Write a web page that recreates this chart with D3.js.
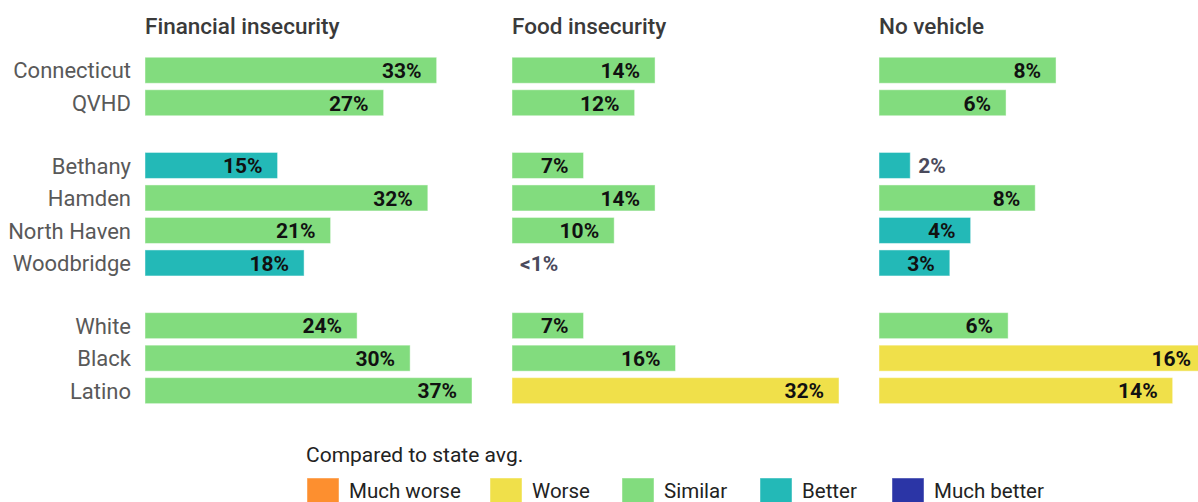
<!DOCTYPE html>
<html>
<head>
<meta charset="utf-8">
<script src="https://cdn.jsdelivr.net/npm/d3@7"></script>
<style>
  body { margin: 0; background: #fff; }
  svg { display: block; font-family: Roboto, "Noto Sans", sans-serif; }
</style>
</head>
<body>
<script>
// rows of the chart, group index puts the blank gap between blocks
var rows = ["Connecticut", "QVHD", "Bethany", "Hamden", "North Haven", "Woodbridge", "White", "Black", "Latino"];
var rowGroups = [0, 0, 1, 1, 1, 1, 2, 2, 2];

var panelTitles = ["Financial insecurity", "Food insecurity", "No vehicle"];

// values (%)
var financialValues = [33, 27, 15, 32, 21, 18, 24, 30, 37];
var foodValues = [14, 12, 7, 14, 10, 0, 7, 16, 32];
var vehicleValues = [8.5, 6.1, 1.5, 7.5, 4.4, 3.4, 6.2, 15.7, 14.1];

// printed labels
var financialLabels = ["33%", "27%", "15%", "32%", "21%", "18%", "24%", "30%", "37%"];
var foodLabels = ["14%", "12%", "7%", "14%", "10%", "<1%", "7%", "16%", "32%"];
var vehicleLabels = ["8%", "6%", "2%", "8%", "4%", "3%", "6%", "16%", "14%"];

// comparison to state average
var financialRating = ["Similar", "Similar", "Better", "Similar", "Similar", "Better", "Similar", "Similar", "Similar"];
var foodRating = ["Similar", "Similar", "Similar", "Similar", "Similar", "Similar", "Similar", "Similar", "Worse"];
var vehicleRating = ["Similar", "Similar", "Better", "Similar", "Better", "Better", "Similar", "Worse", "Worse"];

// axis maximum of each panel
var panelMax = [37, 32, 15.7];

var legendTitle = "Compared to state avg.";
var ratings = ["Much worse", "Worse", "Similar", "Better", "Much better"];
var ratingColors = ["#fd8f2f", "#f0e04a", "#82dc7e", "#23b9b7", "#2b35a6"];

var width = 1198, height = 502;
var panelX = [145, 512, 879],
    panelW = 327,
    groupGap = 30.2,
    legendX = [307, 490, 622, 760, 892];

var color = d3.scaleOrdinal().domain(ratings).range(ratingColors);

var y = d3.scaleBand()
    .domain(rows)
    .range([54, 346.5])
    .paddingInner(0.2)
    .paddingOuter(0.1);

function rowY(i) { return y(rows[i]) + rowGroups[i] * groupGap; }

var svg = d3.select("body").append("svg")
    .attr("width", width)
    .attr("height", height);

//row labels on the left
svg.append("g").selectAll("text")
    .data(rows)
  .enter().append("text")
    .attr("x", 131)
    .attr("y", function(d, i) { return rowY(i) + y.bandwidth() / 2; })
    .attr("dy", "0.37em")
    .attr("text-anchor", "end")
    .style("font-size", "22px")
    .style("fill", "#595959")
    .text(function(d) { return d; });

var panels = [
  { values: financialValues, labels: financialLabels, rating: financialRating },
  { values: foodValues, labels: foodLabels, rating: foodRating },
  { values: vehicleValues, labels: vehicleLabels, rating: vehicleRating }
];

panels.forEach(function(p, k) {
  var x = d3.scaleLinear().domain([0, panelMax[k]]).range([panelX[k], panelX[k] + panelW]);

  var g = svg.append("g");

  g.append("text")
      .attr("x", panelX[k])
      .attr("y", 34)
      .style("font-size", "22.5px")
      .style("font-weight", 500)
      .style("fill", "#3a3a3a")
      .text(panelTitles[k]);

  var data = rows.map(function(r, i) {
    return { row: r, i: i, value: p.values[i], label: p.labels[i], rating: p.rating[i] };
  });

  g.selectAll("rect")
      .data(data.filter(function(d) { return d.value > 0; }))
    .enter().append("rect")
      .attr("x", x(0))
      .attr("y", function(d) { return rowY(d.i); })
      .attr("width", function(d) { return x(d.value) - x(0); })
      .attr("height", y.bandwidth())
      .style("fill", function(d) { return color(d.rating); })
      .style("stroke", "#fff")
      .style("stroke-opacity", 0.45);

  //labels sit inside the bar end, or just past it if the bar is too short
  g.selectAll(".val")
      .data(data)
    .enter().append("text")
      .attr("class", "val")
      .attr("y", function(d) { return rowY(d.i) + y.bandwidth() / 2; })
      .attr("dy", "0.37em")
      .each(function(d) {
        var w = x(d.value) - x(0);
        var t = d3.select(this);
        if (w > 50) {
          t.attr("x", x(d.value) - 15).attr("text-anchor", "end").style("fill", "#111");
        } else {
          t.attr("x", x(d.value) + 8).attr("text-anchor", "start").style("fill", "#4a4a5c");
        }
      })
      .style("font-size", "21px")
      .style("font-weight", 700)
      .text(function(d) { return d.label; });
});

//legend
var legend = svg.append("g");
legend.append("text")
    .attr("x", 306)
    .attr("y", 462)
    .style("font-size", "21px")
    .style("fill", "#222")
    .text(legendTitle);

ratings.forEach(function(r, i) {
  legend.append("rect")
      .attr("x", legendX[i]).attr("y", 478)
      .attr("width", 32).attr("height", 32)
      .style("fill", color(r))
      .style("stroke", "#fff")
      .style("stroke-opacity", 0.45);
  legend.append("text")
      .attr("x", legendX[i] + 42).attr("y", 498)
      .style("font-size", "20.5px")
      .style("fill", "#222")
      .text(r);
});
</script>
</body>
</html>
